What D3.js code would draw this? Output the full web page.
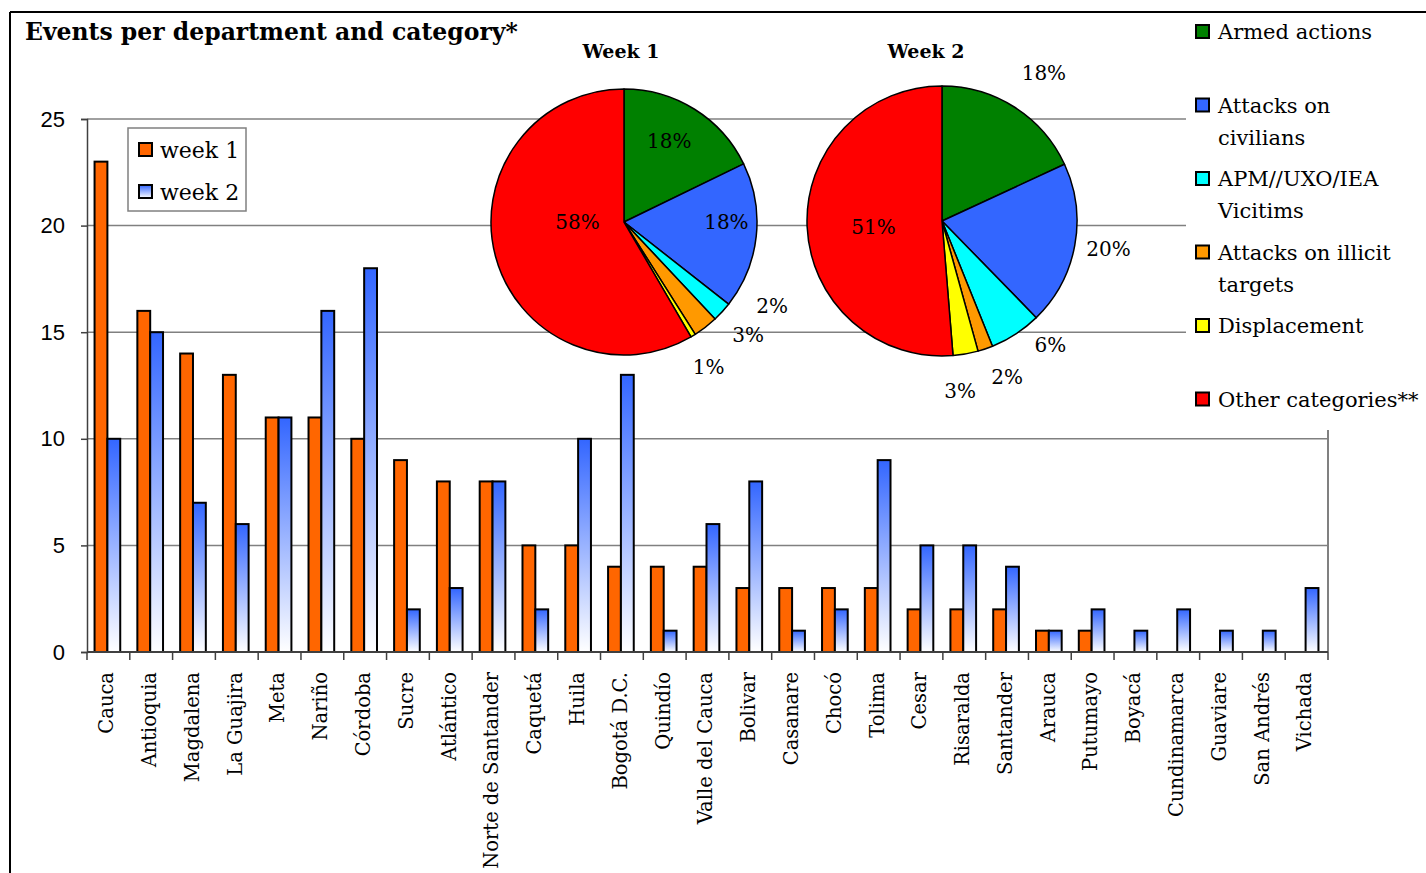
<!DOCTYPE html>
<html>
<head>
<meta charset="utf-8">
<script src="https://cdn.jsdelivr.net/npm/d3@7"></script>
<style>
  html, body { margin: 0; padding: 0; background: #fff; }
  svg { display: block; }
  text { font-family: "DejaVu Serif", serif; fill: #000; }
</style>
</head>
<body>
<div id="chart"></div>
<script>
// bar chart data
var departments = ["Cauca", "Antioquia", "Magdalena", "La Guajira", "Meta", "Nariño", "Córdoba", "Sucre",
  "Atlántico", "Norte de Santander", "Caquetá", "Huila", "Bogotá D.C.", "Quindío", "Valle del Cauca",
  "Bolivar", "Casanare", "Chocó", "Tolima", "Cesar", "Risaralda", "Santander", "Arauca", "Putumayo",
  "Boyacá", "Cundinamarca", "Guaviare", "San Andrés", "Vichada"];
var week1 = [23, 16, 14, 13, 11, 11, 10, 9, 8, 8, 5, 5, 4, 4, 4, 3, 3, 3, 3, 2, 2, 2, 1, 1, 0, 0, 0, 0, 0];
var week2 = [10, 15, 7, 6, 11, 16, 18, 2, 3, 8, 2, 10, 13, 1, 6, 8, 1, 2, 9, 5, 5, 4, 1, 2, 1, 2, 1, 1, 3];
var yTicks = [0, 5, 10, 15, 20, 25];
var seriesNames = ["week 1", "week 2"];

// pie data (share in %)
var pieCategories = ["Armed actions", "Attacks on civilians", "APM//UXO/IEA Vicitims",
  "Attacks on illicit targets", "Displacement", "Other categories**"];
var legendLines = [["Armed actions"], ["Attacks on", "civilians"], ["APM//UXO/IEA", "Vicitims"],
  ["Attacks on illicit", "targets"], ["Displacement"], ["Other categories**"]];
var pieWeek1 = [17.8, 17.8, 2.4, 3.0, 0.6, 58.4];
var pieWeek2 = [18.1, 19.6, 6.2, 1.8, 3.0, 51.3];
var pieColors = ["#008000", "#3366FF", "#00FFFF", "#FF9900", "#FFFF00", "#FF0000"];

var W = 1426, H = 873;
var svg = d3.select("#chart").append("svg").attr("width", W).attr("height", H);

var defs = svg.append("defs");
var grad = defs.append("linearGradient").attr("id", "blueGrad")
  .attr("x1", 0).attr("y1", 0).attr("x2", 0).attr("y2", 1);
grad.append("stop").attr("offset", "0%").attr("stop-color", "#3366FF");
grad.append("stop").attr("offset", "100%").attr("stop-color", "#FFFFFF");

// outer frame
svg.append("line").attr("x1", 10).attr("y1", 12).attr("x2", W).attr("y2", 12)
  .attr("stroke", "#000").attr("stroke-width", 2);
svg.append("line").attr("x1", 10).attr("y1", 12).attr("x2", 10).attr("y2", H)
  .attr("stroke", "#000").attr("stroke-width", 2);

// scales
var plotLeft = 87, plotRight = 1328, plotTop = 119, plotBottom = 652;
var x = d3.scaleBand().domain(departments).range([plotLeft, plotRight]).paddingInner(0.4).paddingOuter(0.2);
var xs = d3.scaleBand().domain(seriesNames).range([0, x.bandwidth()]);
var y = d3.scaleLinear().domain([0, 25]).range([plotBottom, plotTop]);
var step = x.step();

// gridlines
svg.append("g").selectAll("line").data(yTicks.slice(1)).join("line")
  .attr("x1", plotLeft).attr("x2", plotRight)
  .attr("y1", function (d) { return y(d); }).attr("y2", function (d) { return y(d); })
  .attr("stroke", "#808080").attr("stroke-width", 1.5);
// plot right border
svg.append("line").attr("x1", plotRight).attr("x2", plotRight).attr("y1", plotTop).attr("y2", plotBottom)
  .attr("stroke", "#808080").attr("stroke-width", 2);

// y axis
var yAxis = svg.append("g").attr("transform", "translate(" + plotLeft + ",0)")
  .call(d3.axisLeft(y).tickValues(yTicks).tickSize(6).tickPadding(16));
yAxis.select(".domain").attr("stroke", "#404040").attr("stroke-width", 1.5);
yAxis.selectAll(".tick line").attr("stroke", "#404040").attr("stroke-width", 1.5);
yAxis.selectAll(".tick text").style("font-family", "'Liberation Sans', Arial, sans-serif")
  .style("font-size", "22px").attr("fill", "#000");

// bars
var groups = svg.append("g").selectAll("g").data(departments).join("g")
  .attr("transform", function (d) { return "translate(" + (x(d) - 1) + ",0)"; });
groups.append("rect")
  .attr("x", xs("week 1")).attr("width", xs.bandwidth())
  .attr("y", function (d, i) { return y(week1[i]); })
  .attr("height", function (d, i) { return y(0) - y(week1[i]); })
  .attr("fill", "#FF6600").attr("stroke", "#000").attr("stroke-width", 2)
  .attr("display", function (d, i) { return week1[i] > 0 ? null : "none"; });
groups.append("rect")
  .attr("x", xs("week 2")).attr("width", xs.bandwidth())
  .attr("y", function (d, i) { return y(week2[i]); })
  .attr("height", function (d, i) { return y(0) - y(week2[i]); })
  .attr("fill", "url(#blueGrad)").attr("stroke", "#000").attr("stroke-width", 2)
  .attr("display", function (d, i) { return week2[i] > 0 ? null : "none"; });

// x axis
svg.append("line").attr("x1", plotLeft).attr("x2", plotRight).attr("y1", plotBottom).attr("y2", plotBottom)
  .attr("stroke", "#404040").attr("stroke-width", 2);
var bounds = departments.map(function (d) { return x(d) - step * 0.2; }).concat([plotRight]);
svg.append("g").selectAll("line").data(bounds).join("line")
  .attr("x1", function (d) { return d; }).attr("x2", function (d) { return d; })
  .attr("y1", plotBottom).attr("y2", plotBottom + 8)
  .attr("stroke", "#404040").attr("stroke-width", 1.5);
svg.append("g").selectAll("text").data(departments).join("text")
  .attr("transform", function (d) {
    return "translate(" + (x(d) + x.bandwidth() / 2 - 2) + "," + (plotBottom + 20) + ") rotate(-90)";
  })
  .attr("text-anchor", "end").attr("dy", "0.35em")
  .style("font-size", "19.5px")
  .text(function (d) { return d; });

// bar legend
var bl = svg.append("g").attr("transform", "translate(128,128)");
bl.append("rect").attr("width", 118).attr("height", 83).attr("fill", "#fff")
  .attr("stroke", "#808080").attr("stroke-width", 1.5);
seriesNames.forEach(function (s, i) {
  bl.append("rect").attr("x", 11).attr("y", 15 + i * 42).attr("width", 13).attr("height", 13)
    .attr("fill", i === 0 ? "#FF6600" : "url(#blueGrad)").attr("stroke", "#000").attr("stroke-width", 2);
  bl.append("text").attr("x", 32).attr("y", 22 + i * 42).attr("dy", "0.35em")
    .style("font-size", "22px").text(s);
});

// title
svg.append("text").attr("x", 25).attr("y", 40).style("font-size", "23.5px").style("font-weight", "bold")
  .text("Events per department and category*");

// pies
var pies = [
  { title: "Week 1", values: pieWeek1, cx: 624, cy: 222, r: 133, tx: 621,
    nudge: [-3, -6, -13, -10, 1, 15], rf: [0.70, 0.77, 1.28, 1.26, 1.26, 0.35] },
  { title: "Week 2", values: pieWeek2, cx: 942, cy: 221, r: 135, tx: 926,
    nudge: [2, -1, -8, -4, 4, -3], rf: [1.33, 1.25, 1.22, 1.25, 1.27, 0.51] }
];
var pieGen = d3.pie().sort(null).value(function (d) { return d; });
pies.forEach(function (p) {
  var total = d3.sum(p.values);
  var arcs = pieGen(p.values);
  var arc = d3.arc().innerRadius(0).outerRadius(p.r);
  var g = svg.append("g").attr("transform", "translate(" + p.cx + "," + p.cy + ")");
  g.selectAll("path").data(arcs).join("path")
    .attr("d", arc)
    .attr("fill", function (d, i) { return pieColors[i]; })
    .attr("stroke", "#000").attr("stroke-width", 1.5).attr("stroke-linejoin", "round");
  g.selectAll("text").data(arcs).join("text")
    .attr("x", function (d, i) {
      var a = (d.startAngle + d.endAngle) / 2 + p.nudge[i] * Math.PI / 180;
      return Math.sin(a) * p.r * p.rf[i];
    })
    .attr("y", function (d, i) {
      var a = (d.startAngle + d.endAngle) / 2 + p.nudge[i] * Math.PI / 180;
      return -Math.cos(a) * p.r * p.rf[i];
    })
    .attr("text-anchor", "middle").attr("dy", "0.35em")
    .style("font-size", "20px")
    .text(function (d) { return Math.round(d.value / total * 100) + "%"; });
  svg.append("text").attr("x", p.tx).attr("y", 58).attr("text-anchor", "middle")
    .style("font-size", "19px").style("font-weight", "bold").text(p.title);
});

// category legend (white box covering the right side of the plot)
svg.append("rect").attr("x", 1186).attr("y", 13).attr("width", W - 1186).attr("height", 417).attr("fill", "#fff");
var cl = svg.append("g");
legendLines.forEach(function (lines, i) {
  var yy = 25 + i * 73.5;
  cl.append("rect").attr("x", 1196).attr("y", yy).attr("width", 13).attr("height", 13)
    .attr("fill", pieColors[i]).attr("stroke", "#000").attr("stroke-width", 2);
  lines.forEach(function (t, j) {
    cl.append("text").attr("x", 1218).attr("y", yy + 7 + j * 32).attr("dy", "0.35em")
      .style("font-size", "21px").text(t);
  });
});
</script>
</body>
</html>
